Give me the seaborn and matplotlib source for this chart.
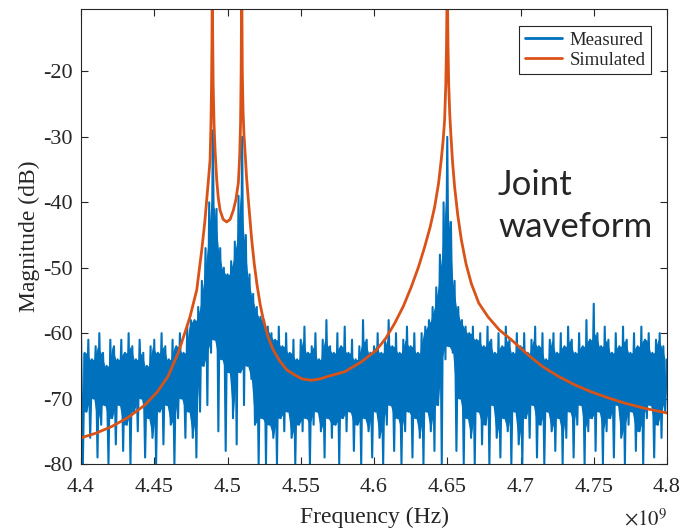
import numpy as np
import pandas as pd
import seaborn as sns
import matplotlib.pyplot as plt
from matplotlib.ticker import FuncFormatter

# measured trace: upper / lower excursion every 2.5 MHz from 4.4 GHz
meas_start_ghz = 4.4
meas_step_ghz = 0.0025
measured_hi = [
    -60, -63, -61, -64, -62, -60, -63, -65, -61, -62,
    -64, -61, -63, -60, -62, -64, -61, -63, -65, -62,
    -61, -63, -60, -62, -64, -61, -62, -60, -63, -59,
    -58, -58, -56, -52, -47, -40, -29, -41, -47, -50,
    -51, -49, -46, -39, -30, -45, -51, -54, -56, -57.5,
    -58, -59, -60, -61, -59, -62, -60, -63, -61, -64,
    -61, -59, -63, -62, -60, -64, -61, -58, -62, -63,
    -60, -62, -59, -63, -61, -64, -62, -58, -61, -63,
    -62, -60, -63, -61, -58, -62, -60, -63, -61, -59,
    -62, -60, -63, -60, -59, -58, -56, -53, -48, -40,
    -30, -43, -52, -56, -58, -59, -60, -59, -61, -60,
    -62, -59, -61, -63, -60, -62, -59, -61, -63, -60,
    -62, -60, -63, -61, -59, -62, -60, -64, -61, -60,
    -63, -60, -62, -59, -61, -63, -60, -62, -58, -61,
    -55.5, -60, -62, -59, -61, -63, -60, -62, -59, -61,
    -63, -60, -62, -59, -61, -60, -63, -61, -60, -62, -64,
]
measured_lo = [
    -80, -72, -76, -70, -79, -74, -71, -80, -73, -77,
    -71, -78, -74, -80, -72, -75, -70, -79, -73, -76,
    -80, -72, -77, -71, -74, -80, -73, -70, -76, -72,
    -76, -79, -72, -65, -71, -63, -61, -75, -64, -78,
    -66, -73, -77, -66, -71, -65, -67, -74, -80, -73,
    -80, -74, -76, -80, -73, -75, -72, -76, -80, -74,
    -75, -73, -80, -74, -72, -75, -79, -73, -76, -74,
    -80, -73, -75, -72, -78, -74, -80, -73, -75, -79,
    -72, -76, -80, -74, -71, -78, -73, -80, -75, -72,
    -79, -73, -76, -80, -72, -75, -78, -71, -80, -64,
    -62, -63, -78, -70, -80, -73, -76, -80, -72, -77,
    -74, -80, -71, -76, -79, -73, -75, -80, -72, -77,
    -80, -73, -76, -71, -79, -74, -80, -72, -75, -78,
    -73, -80, -76, -72, -79, -74, -71, -80, -75, -73,
    -78, -72, -80, -75, -73, -79, -71, -76, -80, -74,
    -72, -78, -75, -80, -73, -71, -79, -74, -76, -72, -70,
]

# simulated response (GHz, dB)
sim_freq_ghz = [
    4.4000, 4.4100, 4.4207, 4.4320, 4.4435, 4.4520, 4.4594, 4.4662, 4.4708, 4.4744,
    4.4790, 4.4824, 4.4845, 4.4858, 4.4872, 4.4881, 4.4887, 4.4891, 4.4894, 4.4896,
    4.4899, 4.4902, 4.4908, 4.4915, 4.4926, 4.4937, 4.4949, 4.4970, 4.4994, 4.5018,
    4.5040, 4.5058, 4.5074, 4.5083, 4.5089, 4.5093, 4.5097, 4.5101, 4.5106, 4.5112,
    4.5119, 4.5130, 4.5142, 4.5165, 4.5182, 4.5200, 4.5222, 4.5245, 4.5277, 4.5313,
    4.5355, 4.5404, 4.5459, 4.5510, 4.5572, 4.5630, 4.5686, 4.5800, 4.5913, 4.6016,
    4.6080, 4.6141, 4.6200, 4.6255, 4.6305, 4.6346, 4.6383, 4.6414, 4.6440, 4.6459,
    4.6472, 4.6482, 4.6490, 4.6495, 4.6500, 4.6505, 4.6510, 4.6517, 4.6524, 4.6536,
    4.6550, 4.6572, 4.6596, 4.6628, 4.6664, 4.6715, 4.6778, 4.6855, 4.6937, 4.7051,
    4.7150, 4.7258, 4.7370, 4.7486, 4.7600, 4.7713, 4.7850, 4.8000,
]
sim_db = [
    -76.0, -75.3, -74.3, -72.9, -71.0, -69.0, -66.6, -63.1, -60.0, -57.5,
    -53.4, -47.3, -43.0, -39.6, -36.0, -33.5, -28.0, -22.0, -15.0, -5.0,
    -15.0, -22.0, -28.0, -32.0, -36.5, -39.3, -41.2, -42.6, -43.0, -42.6,
    -41.2, -39.5, -37.0, -33.0, -28.0, -20.0, -5.0, -20.0, -26.0, -29.5,
    -32.0, -36.2, -39.6, -45.7, -49.3, -52.4, -55.5, -58.0, -60.6, -62.6,
    -64.2, -65.6, -66.4, -67.0, -67.2, -67.0, -66.6, -65.9, -64.4, -62.6,
    -60.8, -58.5, -55.9, -52.9, -49.8, -46.8, -43.8, -40.7, -37.2, -33.5,
    -30.5, -27.4, -22.0, -16.0, -5.0, -16.0, -22.0, -26.5, -29.4, -33.8,
    -37.6, -42.0, -45.7, -49.4, -52.4, -55.4, -57.5, -59.5, -61.0, -63.3,
    -65.1, -66.6, -67.9, -69.0, -69.9, -70.7, -71.5, -72.2,
]

sns.set_style("ticks")
plt.rcParams['font.family'] = ['Liberation Serif', 'DejaVu Serif']
plt.rcParams['mathtext.fontset'] = 'stix'
plt.rcParams['axes.unicode_minus'] = False

blue = '#0072BD'
orange = '#D95319'

# zigzag hi -> lo so the dense trace looks like the original
hi = np.array(measured_hi)
lo = np.array(measured_lo)
f_grid = meas_start_ghz + meas_step_ghz * np.arange(len(hi))
meas = pd.DataFrame({
    'freq': np.column_stack([f_grid, f_grid + meas_step_ghz / 2]).ravel(),
    'db': np.column_stack([hi, lo]).ravel(),
})
sim = pd.DataFrame({'freq': sim_freq_ghz, 'db': sim_db})

# the part of the band the dense trace always covers
core_f = f_grid[:-1] + meas_step_ghz / 2
core_top = np.minimum(hi[:-1], hi[1:])
core_bot = np.maximum(lo[:-1], lo[1:])

fig = plt.figure(figsize=(6.82, 5.30), dpi=100)
ax = fig.add_axes([0.1188, 0.1245, 0.8592, 0.858])

ax.fill_between(core_f, core_bot, core_top, color=blue, lw=0)
sns.lineplot(data=meas, x='freq', y='db', ax=ax, estimator=None, sort=False,
             color=blue, lw=1.5, label='Measured')
sns.lineplot(data=sim, x='freq', y='db', ax=ax, estimator=None, sort=False,
             color=orange, lw=2.0, label='Simulated')

ax.set_xlim(4.4, 4.8)
ax.set_ylim(-80, -10.5)
ax.set_xticks(np.arange(4.4, 4.8001, 0.05))
ax.set_yticks(np.arange(-80, -19, 10))
ax.xaxis.set_major_formatter(FuncFormatter(lambda v, p: '%g' % round(v, 2)))
ax.tick_params(direction='in', top=True, right=True, length=5, width=0.8,
               labelsize=16, colors='#262626')
ax.tick_params(axis='x', pad=10)
ax.tick_params(axis='y', pad=6)
for s in ax.spines.values():
    s.set_color('#262626')
    s.set_linewidth(0.8)

ax.set_xlabel('Frequency (Hz)', fontsize=17, color='#262626', labelpad=7)
ax.set_ylabel('Magnitude (dB)', fontsize=17, color='#262626', labelpad=2)

leg = ax.legend(loc='upper right', bbox_to_anchor=(0.973, 0.963), borderaxespad=0,
                fontsize=13.5, fancybox=False, framealpha=1, handlelength=2.0,
                edgecolor='#262626', borderpad=0.3, labelspacing=0.15, handletextpad=0.4)
leg.get_frame().set_linewidth(0.8)
for line in leg.get_lines():
    line.set_linewidth(2.0)

fig.text(0.979, 1 - 520 / 530, r'$\times10^{9}$', ha='right', va='center', fontsize=15, color='#262626')

fig.text(498 / 682, 1 - 195 / 530, 'Joint', family='Lato', fontsize=25, va='baseline')
fig.text(498 / 682, 1 - 237 / 530, 'waveform', family='Lato', fontsize=25, va='baseline')

plt.savefig('out.png', dpi=100)
